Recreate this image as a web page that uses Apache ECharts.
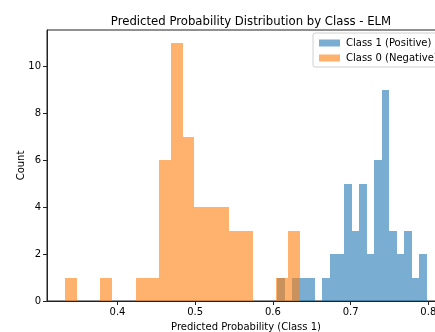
<!DOCTYPE html>
<html>
<head>
<meta charset="utf-8">
<script src="https://cdn.jsdelivr.net/npm/echarts@6/dist/echarts.min.js"></script>
<style>html,body{margin:0;padding:0;background:#fff}#c{width:435px;height:332px}</style>
</head>
<body>
<div id="c"></div>
<script>
// Class 1 (Positive): 20 bins
const class1Edges = [0.6054, 0.61504, 0.62468, 0.63432, 0.64396, 0.6536, 0.66324, 0.67288, 0.68252, 0.69216, 0.7018,
  0.71144, 0.72108, 0.73072, 0.74036, 0.75, 0.75964, 0.76928, 0.77892, 0.78856, 0.7982];
const class1Counts = [1, 0, 1, 1, 1, 0, 1, 2, 2, 5, 3, 5, 2, 6, 9, 3, 2, 3, 1, 2];
// Class 0 (Negative): 20 bins
const class0Edges = [0.3326, 0.34771, 0.36282, 0.37793, 0.39304, 0.40815, 0.42326, 0.43837, 0.45348, 0.46859, 0.4837,
  0.49881, 0.51392, 0.52903, 0.54414, 0.55925, 0.57436, 0.58947, 0.60458, 0.61969, 0.6348];
const class0Counts = [1, 0, 0, 1, 0, 0, 1, 1, 6, 11, 7, 4, 4, 4, 3, 3, 0, 0, 1, 3];
const xTicks = [0.4, 0.5, 0.6, 0.7, 0.8];
const yTicks = [0, 2, 4, 6, 8, 10];
const seriesNames = ['Class 1 (Positive)', 'Class 0 (Negative)'];

const FONT = 'DejaVu Sans';
function toBins(edges, counts) {
  return counts.map((c, i) => [edges[i], edges[i + 1], c]);
}
function render(color) {
  return function (params, api) {
    const h = api.value(2);
    if (!h) return null;
    const p0 = api.coord([api.value(0), h]);
    const p1 = api.coord([api.value(1), 0]);
    const x0 = Math.round(p0[0]), x1 = Math.round(p1[0]);
    const y0 = Math.round(p0[1]), y1 = Math.round(p1[1]);
    return {
      type: 'rect',
      shape: { x: x0, y: y0, width: x1 - x0, height: y1 - y0 },
      style: { fill: color, opacity: 0.6 }
    };
  };
}
const chart = echarts.init(document.getElementById('c'), null, { renderer: 'canvas' });
chart.setOption({
  animation: false,
  backgroundColor: '#fff',
  textStyle: { fontFamily: FONT },
  title: {
    text: 'Predicted Probability Distribution by Class - ELM',
    left: 246, top: 11, textAlign: 'center',
    textStyle: { fontFamily: FONT, fontSize: 11.7, fontWeight: 'normal', color: '#000' }
  },
  legend: {
    orient: 'vertical', left: 313, top: 33,
    padding: [5, 6, 4, 6], itemGap: 5, itemWidth: 21, itemHeight: 7,
    borderColor: '#d0d0d0', borderWidth: 1, borderRadius: 2,
    textStyle: { fontFamily: FONT, fontSize: 10, color: '#000', padding: [0, 0, 0, 1] },
    data: [
      { name: seriesNames[0], icon: 'rect', itemStyle: { color: '#79add2', opacity: 1 } },
      { name: seriesNames[1], icon: 'rect', itemStyle: { color: '#ffb26e', opacity: 1 } }
    ]
  },
  grid: { left: 47, top: 30, bottom: 31, right: -10, show: true, borderColor: '#222', borderWidth: 1,
    containLabel: false, outerBoundsMode: 'none' },
  xAxis: {
    type: 'value', min: 0.3093, max: 0.8215,
    name: 'Predicted Probability (Class 1)', nameLocation: 'middle', nameGap: 21, nameMoveOverlap: false,
    nameTextStyle: { fontFamily: FONT, fontSize: 10, color: '#000' },
    axisLine: { show: true, onZero: false, lineStyle: { color: '#222', width: 1 } },
    axisTick: { show: true, length: 4, lineStyle: { color: '#222' }, customValues: xTicks },
    axisLabel: { fontFamily: FONT, fontSize: 10, color: '#000', margin: 6, customValues: xTicks,
      formatter: v => v.toFixed(1) },
    splitLine: { show: false }
  },
  yAxis: {
    type: 'value', min: 0, max: 11.55,
    name: 'Count', nameLocation: 'middle', nameGap: 21, nameRotate: 90, nameMoveOverlap: false,
    nameTextStyle: { fontFamily: FONT, fontSize: 10, color: '#000' },
    axisLine: { show: true, lineStyle: { color: '#222', width: 1 } },
    axisTick: { show: true, length: 4, lineStyle: { color: '#222' }, customValues: yTicks },
    axisLabel: { fontFamily: FONT, fontSize: 10, color: '#000', margin: 6, customValues: yTicks },
    splitLine: { show: false }
  },
  series: [
    { name: seriesNames[0], type: 'custom', renderItem: render('#1f77b4'), itemStyle: { color: '#79add2' },
      encode: { x: [0, 1], y: 2 }, data: toBins(class1Edges, class1Counts) },
    { name: seriesNames[1], type: 'custom', renderItem: render('#ff7f0e'), itemStyle: { color: '#ffb26e' },
      encode: { x: [0, 1], y: 2 }, data: toBins(class0Edges, class0Counts) }
  ]
});
</script>
</body>
</html>
